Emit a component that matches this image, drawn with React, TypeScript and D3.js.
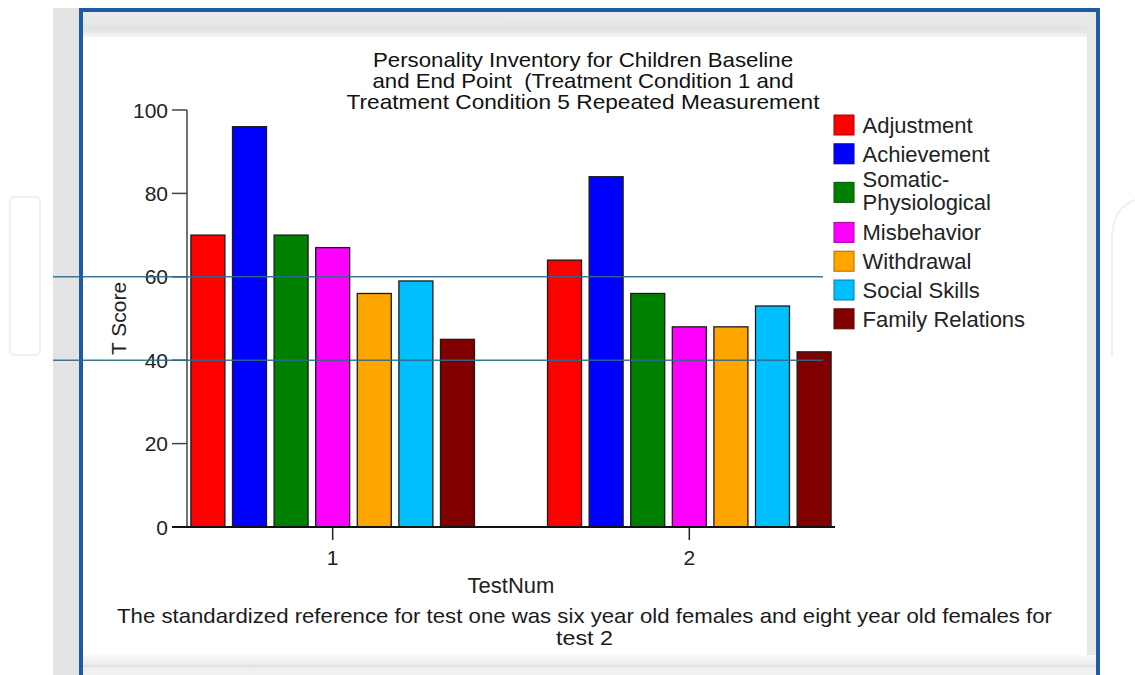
import React from "react";
import * as d3 from "d3";

// ---- data ----
const testNums = ["1", "2"];
const seriesNames = [
  "Adjustment",
  "Achievement",
  "Somatic-Physiological",
  "Misbehavior",
  "Withdrawal",
  "Social Skills",
  "Family Relations",
];
const legendLabels = [
  ["Adjustment"],
  ["Achievement"],
  ["Somatic-", "Physiological"],
  ["Misbehavior"],
  ["Withdrawal"],
  ["Social Skills"],
  ["Family Relations"],
];
const seriesColors = ["#ff0000", "#0000ff", "#008000", "#ff00ff", "#ffa500", "#00bfff", "#800000"];
const adjustment = [70, 64];
const achievement = [96, 84];
const somaticPhysiological = [70, 56];
const misbehavior = [67, 48];
const withdrawal = [56, 48];
const socialSkills = [59, 53];
const familyRelations = [45, 42];
const seriesValues = [
  adjustment,
  achievement,
  somaticPhysiological,
  misbehavior,
  withdrawal,
  socialSkills,
  familyRelations,
];
const yTicks = [0, 20, 40, 60, 80, 100];
const referenceLines = [60, 40];
const titleLines = [
  "Personality Inventory for Children Baseline",
  "and End Point  (Treatment Condition 1 and",
  "Treatment Condition 5 Repeated Measurement",
];
const xAxisTitle = "TestNum";
const yAxisTitle = "T Score";
const footnoteLines = [
  "The standardized reference for test one was six year old females and eight year old females for",
  "test 2",
];

const W = 1135;
const H = 675;
const FONT = "'Liberation Sans', Arial, sans-serif";

export default function App() {
  const plotL = 187;
  const plotR = 835;
  const plotT = 110;
  const plotB = 527;

  const y = d3.scaleLinear().domain([0, 100]).range([plotB, plotT]);
  const x0 = d3.scaleBand<string>().domain(testNums).range([plotL, plotR]).paddingInner(0.183).paddingOuter(0);
  const x1 = d3
    .scaleBand<string>()
    .domain(seriesNames)
    .range([0, x0.bandwidth()])
    .paddingInner(0.183)
    .paddingOuter(0.094);

  // legend layout
  const legendItems: { label: string[]; color: string; baselines: number[]; cy: number }[] = [];
  let cursor = 133;
  const adv = 28.8;
  legendLabels.forEach((lab, i) => {
    if (lab.length === 1) {
      legendItems.push({ label: lab, color: seriesColors[i], baselines: [cursor], cy: cursor - 8 });
      cursor += adv;
    } else {
      const b1 = cursor - 4;
      const b2 = b1 + 23.5;
      legendItems.push({ label: lab, color: seriesColors[i], baselines: [b1, b2], cy: (b1 + b2) / 2 - 6 });
      cursor += adv + 21;
    }
  });

  const titleLengths = [420, 421, 473];

  return (
    <svg
      width={W}
      height={H}
      style={{ position: "absolute", left: 0, top: 0, background: "#ffffff" }}
      fontFamily={FONT}
    >
      <defs>
        <linearGradient id="topband" x1="0" y1="0" x2="0" y2="1">
          <stop offset="0" stopColor="#e9ecec" />
          <stop offset="0.7" stopColor="#e3e3e3" />
          <stop offset="1" stopColor="#f4f4f4" />
        </linearGradient>
        <linearGradient id="botband" x1="0" y1="0" x2="0" y2="1">
          <stop offset="0" stopColor="#fafafa" />
          <stop offset="0.5" stopColor="#ececec" />
          <stop offset="1" stopColor="#f2f2f2" />
        </linearGradient>
      </defs>
      <rect x={0} y={0} width={W} height={H} fill="#ffffff" />
      {/* faint watermark shapes */}
      <rect x={10} y={197} width={30} height={158} rx={4} fill="none" stroke="#eef0f3" strokeWidth={2} />
      <path d="M1112,356 V240 Q1112,198 1150,198" fill="none" stroke="#eef0f3" strokeWidth={2} />
      {/* left gray strip */}
      <rect x={53} y={8} width={27} height={H - 8} fill="#e4e4e4" />
      {/* panel */}
      <rect x={83} y={12} width={1013} height={H - 12} fill="#ffffff" />
      <rect x={83} y={12} width={1013} height={25} fill="url(#topband)" />
      <rect x={1087} y={12} width={9} height={H - 12} fill="#e8e8e8" />
      <rect x={83} y={655} width={1013} height={20} fill="url(#botband)" />
      <line x1={83} x2={1096} y1={666} y2={666} stroke="#eadcea" strokeWidth={2} />
      {/* blue frame */}
      <line x1={81} x2={81} y1={8} y2={H} stroke="#1d5ba3" strokeWidth={4} />
      <line x1={1098} x2={1098} y1={8} y2={H} stroke="#1d5ba3" strokeWidth={4} />
      <line x1={79} x2={1100} y1={10} y2={10} stroke="#1d5ba3" strokeWidth={4} />

      {/* title */}
      {titleLines.map((t, i) => (
        <text
          key={i}
          x={583}
          y={66.5 + i * 21.2}
          textAnchor="middle"
          fontSize={21}
          fill="#111"
          textLength={titleLengths[i]}
          lengthAdjust="spacingAndGlyphs"
          style={{ whiteSpace: "pre" }}
        >
          {t}
        </text>
      ))}

      {/* bars */}
      {testNums.map((g, gi) => (
        <g key={g} transform={`translate(${x0(g)},0)`}>
          {seriesNames.map((s, si) => (
            <rect
              key={s}
              x={x1(s)}
              y={y(seriesValues[si][gi])}
              width={x1.bandwidth()}
              height={plotB - y(seriesValues[si][gi])}
              fill={seriesColors[si]}
              stroke="#1a1a1a"
              strokeWidth={1.3}
            />
          ))}
        </g>
      ))}

      {/* y axis */}
      <line x1={plotL} x2={plotL} y1={y(100)} y2={plotB} stroke="#444" strokeWidth={1.5} />
      {yTicks.map((t) => (
        <g key={t}>
          <line x1={plotL - 15} x2={plotL} y1={y(t)} y2={y(t)} stroke="#444" strokeWidth={1.5} />
          <text x={plotL - 19} y={y(t) + 7.5} textAnchor="end" fontSize={21} fill="#222">
            {t}
          </text>
        </g>
      ))}
      {/* x axis */}
      <line x1={plotL - 15} x2={plotR} y1={plotB} y2={plotB} stroke="#111" strokeWidth={2} />
      {testNums.map((g) => {
        const cx = (x0(g) as number) + x0.bandwidth() / 2;
        return (
          <g key={g}>
            <line x1={cx} x2={cx} y1={plotB} y2={plotB + 13} stroke="#222" strokeWidth={1.5} />
            <text x={cx} y={565} textAnchor="middle" fontSize={21} fill="#222">
              {g}
            </text>
          </g>
        );
      })}
      <text x={(plotL + plotR) / 2} y={593} textAnchor="middle" fontSize={22} fill="#222">
        {xAxisTitle}
      </text>
      <text
        transform={`translate(126,${(plotT + plotB) / 2}) rotate(-90)`}
        textAnchor="middle"
        fontSize={21}
        fill="#222"
      >
        {yAxisTitle}
      </text>

      {/* reference lines */}
      {referenceLines.map((v) => (
        <line key={v} x1={53} x2={823} y1={y(v)} y2={y(v)} stroke="#2c6a8c" strokeWidth={1.5} opacity={0.9} />
      ))}

      {/* legend */}
      {legendItems.map((it, i) => (
        <g key={i}>
          <rect
            x={834}
            y={it.cy - 10}
            width={20}
            height={20}
            fill={it.color}
            stroke={d3.color(it.color)!.darker(1.2).formatHex()}
            strokeWidth={1}
          />
          {it.label.map((l, li) => (
            <text key={li} x={862.5} y={it.baselines[li]} fontSize={22} fill="#222">
              {l}
            </text>
          ))}
        </g>
      ))}

      {/* footnote */}
      <text
        x={584.5}
        y={623}
        textAnchor="middle"
        fontSize={21}
        fill="#1a1a1a"
        textLength={935}
        lengthAdjust="spacingAndGlyphs"
      >
        {footnoteLines[0]}
      </text>
      <text x={584.5} y={645} textAnchor="middle" fontSize={21} fill="#1a1a1a" textLength={57} lengthAdjust="spacingAndGlyphs">
        {footnoteLines[1]}
      </text>
    </svg>
  );
}
